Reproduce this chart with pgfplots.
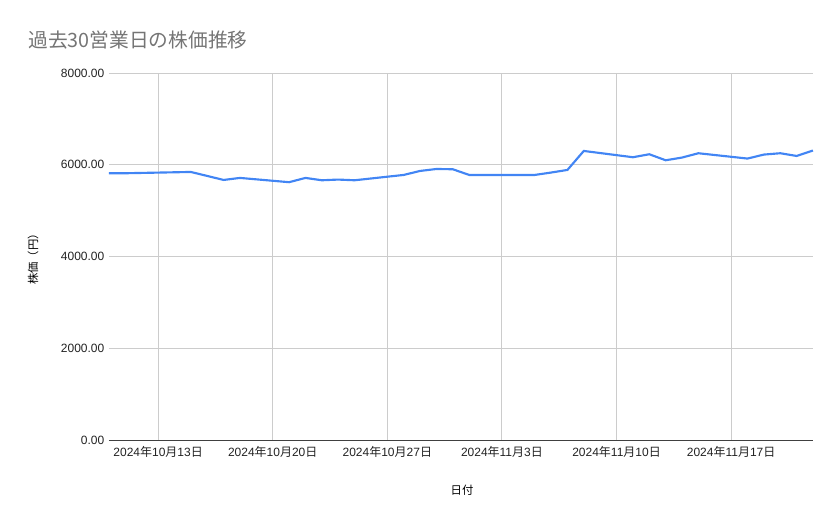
\documentclass[border=0pt]{standalone}
\usepackage{fontspec}
\setmainfont{Liberation Sans}
\newfontfamily\cjk{Noto Sans CJK JP}
\usepackage{pgfplots}
\pgfplotsset{compat=1.18}
\definecolor{gline}{HTML}{4285F4}
\definecolor{gridc}{HTML}{CCCCCC}
\definecolor{titlec}{HTML}{757575}
\definecolor{tickc}{HTML}{222222}
\newcommand{\dt}[2]{2024{\cjk 年}#1{\cjk 月}#2{\cjk 日}}

% day index: 0 = 2024-10-13
\pgfplotstableread{
day price
-3 5815
-2 5815
2  5843
3  5756
4  5669
5  5713
8  5620
9  5713
10 5662
11 5677
12 5662
15 5778
16 5865
17 5908
18 5902
19 5778
23 5778
24 5830
25 5887
26 6301
29 6164
30 6229
31 6098
32 6157
33 6251
36 6135
37 6222
38 6251
39 6192
40 6310
}\prices

\begin{document}
\begin{tikzpicture}
\useasboundingbox (-81.75pt,-59.25pt) rectangle (547.5pt,330pt);
\begin{axis}[
    at={(0,0)}, anchor=south west,
    scale only axis,
    width=528pt, height=275.25pt,
    xmin=-3, xmax=40,
    ymin=0, ymax=8000,
    xtick={0,7,14,21,28,35},
    xticklabels={\dt{10}{13},\dt{10}{20},\dt{10}{27},\dt{11}{3},\dt{11}{10},\dt{11}{17}},
    ytick={0,2000,4000,6000,8000},
    yticklabel style={/pgf/number format/.cd, fixed, fixed zerofill, precision=2, 1000 sep={}, assume math mode=true},
    ticklabel style={font=\fontsize{9}{10}\selectfont, text=tickc},
    xticklabel style={yshift=-1pt},
    major tick length=0pt,
    grid=major,
    major grid style={gridc, line width=0.75pt},
    axis x line*=bottom,
    axis y line*=left,
    x axis line style={draw=black!75, line width=0.75pt, -},
    y axis line style={draw=none},
    clip=false,
]
\addplot[gline, line width=1.6pt, no markers] table[x=day, y=price] {\prices};
\end{axis}
\node[anchor=west, text=titlec, font=\fontsize{14.8}{17}\selectfont\cjk] at (-64pt,300pt) {過去30営業日の株価推移};
\node[rotate=90, font=\fontsize{8.5}{10}\selectfont\cjk] at (-57pt,137.6pt) {株価（円）};
\node[font=\fontsize{8.5}{10}\selectfont\cjk] at (264.75pt,-37.5pt) {日付};
\end{tikzpicture}
\end{document}
